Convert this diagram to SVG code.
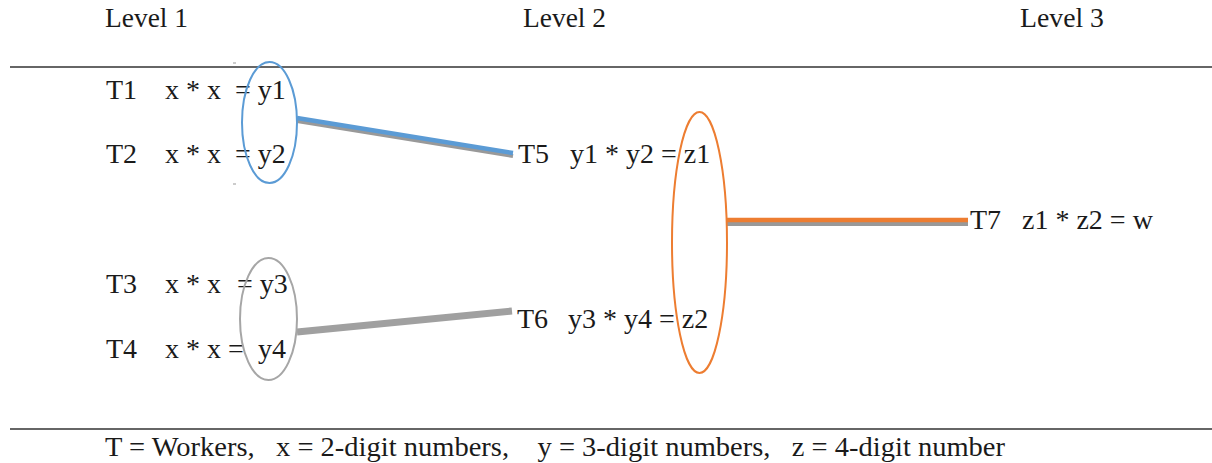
<svg xmlns="http://www.w3.org/2000/svg" width="1212" height="463" viewBox="0 0 1212 463">
<style>
text{font-family:'Liberation Serif','Times New Roman','DejaVu Serif',serif;font-size:28px;fill:#1a1a1a}
.rule{stroke:#333;stroke-width:1.5}
.tick{stroke:#999;stroke-width:1}
</style>
<rect width="1212" height="463" fill="#fff"/>
<g id="header">
<text x="105" y="27" textLength="83" lengthAdjust="spacingAndGlyphs">Level 1</text>
<text x="523" y="27" textLength="83" lengthAdjust="spacingAndGlyphs">Level 2</text>
<text x="1020" y="27" textLength="84" lengthAdjust="spacingAndGlyphs">Level 3</text>
</g>
<line class="rule" x1="10" y1="67" x2="1212" y2="67"/>
<line class="rule" x1="10" y1="429" x2="1212" y2="429"/>
<line class="tick" x1="233" y1="63" x2="236" y2="63"/>
<line class="tick" x1="233" y1="184" x2="236" y2="184"/>
<g id="connectors">
<line x1="297" y1="121" x2="513" y2="156" stroke="#999" stroke-width="4"/>
<line x1="297" y1="118" x2="513" y2="153" stroke="#5b9bd5" stroke-width="4.5"/>
<line x1="297" y1="332" x2="512" y2="311" stroke="#a0a0a0" stroke-width="7"/>
<line x1="727" y1="224" x2="968" y2="224" stroke="#999" stroke-width="4"/>
<line x1="727" y1="220" x2="968" y2="220" stroke="#ed7d31" stroke-width="4.5"/>
</g>
<g id="T1"><text x="106" y="99">T1</text><text x="165" y="99">x * x</text><text x="235" y="99">= y1</text></g>
<g id="T2"><text x="106" y="163">T2</text><text x="165" y="163">x * x</text><text x="235" y="163">= y2</text></g>
<g id="T3"><text x="106" y="293">T3</text><text x="165" y="293">x * x</text><text x="237" y="293">= y3</text></g>
<g id="T4"><text x="106" y="358">T4</text><text x="165" y="358">x * x =</text><text x="258" y="358">y4</text></g>
<g id="T5"><text x="518" y="163">T5</text><text x="570" y="163">y1 * y2 = z1</text></g>
<g id="T6"><text x="517" y="328">T6</text><text x="568" y="328">y3 * y4 = z2</text></g>
<g id="T7"><text x="970" y="229">T7</text><text x="1022" y="229">z1 * z2 = w</text></g>
<g id="group-y1y2"><ellipse cx="269.5" cy="122.5" rx="27.5" ry="60.5" fill="none" stroke="#5b9bd5" stroke-width="2"/></g>
<g id="group-y3y4"><ellipse cx="268.5" cy="319" rx="28.5" ry="61" fill="none" stroke="#a6a6a6" stroke-width="2"/></g>
<g id="group-z1z2"><ellipse cx="699.5" cy="242.5" rx="27.5" ry="130.5" fill="none" stroke="#ed7d31" stroke-width="2"/></g>
<g id="legend"><text x="105" y="456" textLength="900" lengthAdjust="spacingAndGlyphs" xml:space="preserve">T = Workers,   x = 2-digit numbers,    y = 3-digit numbers,   z = 4-digit number</text></g>
</svg>
